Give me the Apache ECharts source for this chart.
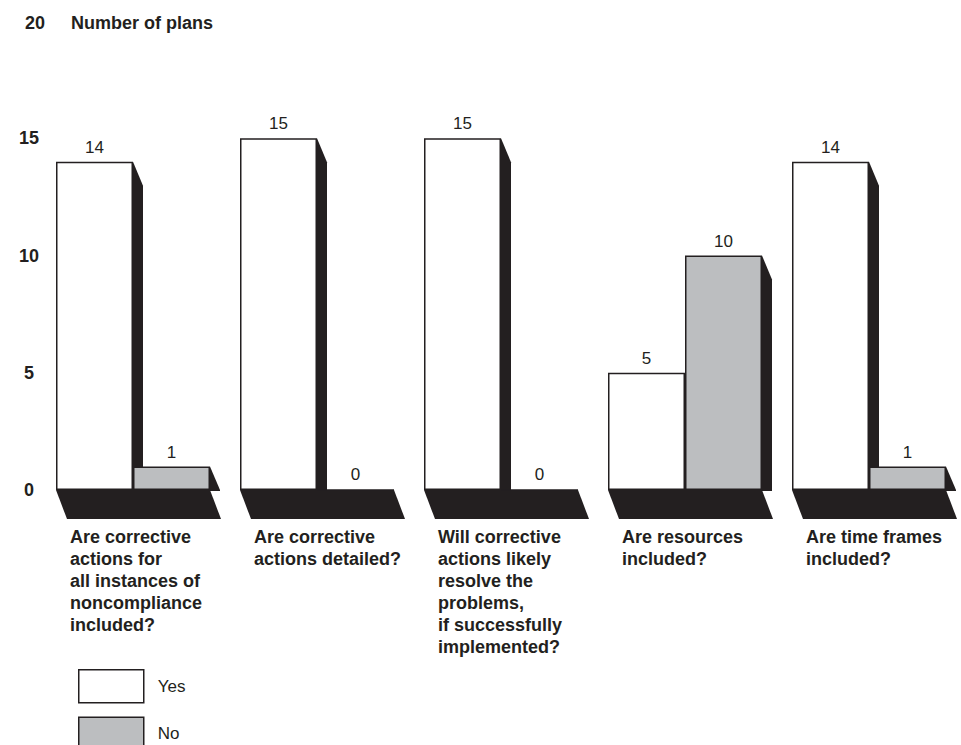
<!DOCTYPE html>
<html>
<head>
<meta charset="utf-8">
<script src="https://cdn.jsdelivr.net/npm/echarts@6/dist/echarts.min.js"></script>
<style>
  html, body { margin: 0; padding: 0; background: #ffffff; }
  #chart { width: 961px; height: 745px; }
</style>
</head>
<body>
<div id="chart"></div>
<script>
// ---- data ----
var categories = [
  'Are corrective\nactions for\nall instances of\nnoncompliance\nincluded?',
  'Are corrective\nactions detailed?',
  'Will corrective\nactions likely\nresolve the\nproblems,\nif successfully\nimplemented?',
  'Are resources\nincluded?',
  'Are time frames\nincluded?'
];
var yesValues = [14, 15, 15, 5, 14];
var noValues = [1, 0, 0, 10, 1];
var yTicks = [0, 5, 10, 15, 20];
var seriesNames = ['Yes', 'No'];

// ---- style ----
var FONT = '"Liberation Sans", Arial, Helvetica, sans-serif';
var INK = '#231f20';
var GRAY = '#bcbec0';
var BAR_W = 77;

var shadowData = categories.map(function (c, i) { return [i, yesValues[i], noValues[i]]; });

var chart = echarts.init(document.getElementById('chart'), null, { renderer: 'svg' });

var option = {
  backgroundColor: '#ffffff',
  animation: false,
  title: [
    { text: String(yTicks[yTicks.length - 1]), left: 25, top: 14, padding: 0,
      textStyle: { fontFamily: FONT, fontWeight: 'bold', fontSize: 18, color: INK } },
    { text: 'Number of plans', left: 71, top: 14, padding: 0,
      textStyle: { fontFamily: FONT, fontWeight: 'bold', fontSize: 18, color: INK } }
  ],
  legend: {
    orient: 'vertical',
    left: 78,
    top: 669,
    height: 120,
    padding: 0,
    icon: 'rect',
    itemWidth: 65,
    itemHeight: 33,
    itemGap: 13,
    selectedMode: false,
    data: [
      { name: seriesNames[0], itemStyle: { color: '#ffffff', borderColor: INK, borderWidth: 1.5 } },
      { name: seriesNames[1], itemStyle: { color: GRAY, borderColor: INK, borderWidth: 1.5 } }
    ],
    textStyle: { fontFamily: FONT, fontSize: 17, color: INK, padding: [0, 0, 0, 9] }
  },
  grid: { left: 41, top: 21, width: 929, height: 469, containLabel: false },
  xAxis: {
    type: 'category',
    data: categories,
    boundaryGap: true,
    axisLine: { show: false },
    axisTick: { show: false },
    axisLabel: { show: false },
    splitLine: { show: false }
  },
  yAxis: {
    type: 'value',
    min: yTicks[0],
    max: yTicks[yTicks.length - 1],
    interval: 5,
    axisLine: { show: false },
    axisTick: { show: false },
    splitLine: { show: false },
    axisLabel: {
      align: 'center',
      margin: 12,
      fontFamily: FONT,
      fontWeight: 'bold',
      fontSize: 18,
      color: INK,
      formatter: function (v) { return v === yTicks[yTicks.length - 1] ? '' : String(v); }
    }
  },
  series: [
    {
      type: 'custom',
      name: 'shadow',
      silent: true,
      data: shadowData,
      encode: { x: 0, y: [1, 2] },
      renderItem: function (params, api) {
        var i = api.value(0);
        var yes = api.value(1), no = api.value(2);
        var c = api.coord([i, 0]);
        var cx = c[0], base = c[1];
        var left = cx - BAR_W, right = cx + BAR_W;
        var yYes = api.coord([i, yes])[1];
        var yNo = api.coord([i, no])[1];
        var fh = 29, fdx = 11, sdx = 10, sdy = 24;
        var style = { fill: INK, stroke: null };
        var children = [];
        children.push({
          type: 'polygon',
          shape: { points: [[left, base], [right, base], [right + fdx, base + fh], [left + fdx, base + fh]] },
          style: style
        });
        function side(x, top) {
          if (base - top < 0.5) return;
          var yb = Math.min(top + sdy, base);
          children.push({
            type: 'polygon',
            shape: { points: [[x, top], [x + sdx, yb], [x + sdx, base + 1], [x, base + 1]] },
            style: style
          });
        }
        side(cx, yYes);
        side(right, yNo);
        children.push({
          type: 'text',
          x: left + 14,
          y: base + 36,
          style: {
            text: categories[i],
            fontFamily: FONT,
            fontWeight: 'bold',
            fontSize: 18,
            lineHeight: 22,
            fill: INK,
            align: 'left',
            verticalAlign: 'top'
          }
        });
        return { type: 'group', children: children };
      },
      z: 1
    },
    {
      type: 'bar',
      name: seriesNames[0],
      data: yesValues,
      barWidth: BAR_W,
      barGap: '0%',
      itemStyle: { color: '#ffffff', borderColor: INK, borderWidth: 1.5 },
      label: { show: true, position: 'top', distance: 6, fontFamily: FONT, fontSize: 17, color: INK },
      z: 3
    },
    {
      type: 'bar',
      name: seriesNames[1],
      data: noValues,
      barWidth: BAR_W,
      barGap: '0%',
      itemStyle: { color: GRAY, borderColor: INK, borderWidth: 1.5 },
      label: { show: true, position: 'top', distance: 6, fontFamily: FONT, fontSize: 17, color: INK },
      z: 3
    }
  ]
};
chart.setOption(option);
</script>
</body>
</html>
